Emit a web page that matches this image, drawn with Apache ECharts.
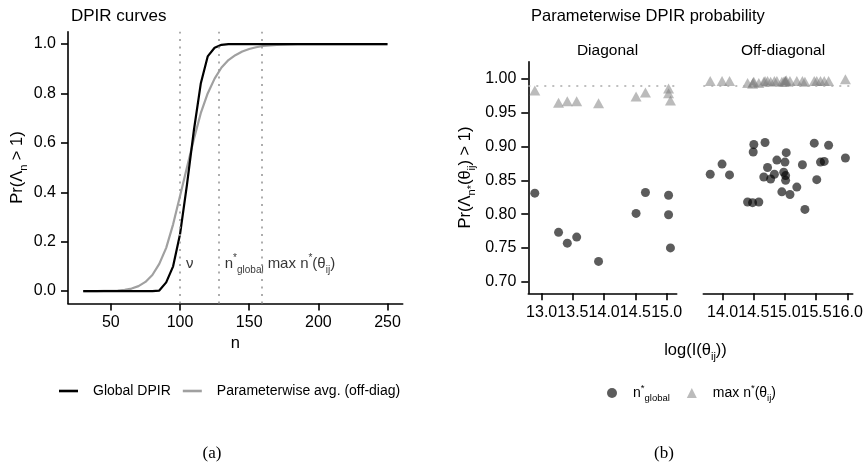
<!DOCTYPE html>
<html>
<head>
<meta charset="utf-8">
<script src="https://cdn.jsdelivr.net/npm/echarts@6/dist/echarts.min.js"></script>
<style>
  html, body { margin: 0; background: #fff; }
  #chart { width: 868px; height: 467px; }
</style>
</head>
<body>
<div id="chart"></div>
<script>
// (a) DPIR curves
const nValues = [30, 35, 40, 45, 50, 55, 60, 65, 70, 75, 80, 85, 90, 95, 100, 105, 110, 115, 120, 125,
  130, 135, 140, 145, 150, 155, 160, 165, 170, 175, 180, 185, 190, 195, 200, 205, 210, 215, 220, 225,
  230, 235, 240, 245, 250]
const globalDpir = [0, 0, 0, 0, 0, 0, 0, 0, 0, 0, 0, 0.002, 0.035, 0.1, 0.23, 0.43, 0.65, 0.84, 0.95, 0.985,
  0.997, 1, 1, 1, 1, 1, 1, 1, 1, 1, 1, 1, 1, 1, 1, 1, 1, 1, 1, 1,
  1, 1, 1, 1, 1]
const paramAvg = [0, 0, 0, 0.001, 0.001, 0.002, 0.005, 0.01, 0.02, 0.037, 0.065, 0.11, 0.175, 0.27, 0.385, 0.5, 0.615, 0.72, 0.8, 0.86,
  0.905, 0.935, 0.955, 0.97, 0.98, 0.987, 0.992, 0.995, 0.997, 0.998, 0.999, 1, 1, 1, 1, 1, 1, 1, 1, 1,
  1, 1, 1, 1, 1]
const vLines = [100, 128, 159]
const vLineLabels = ['{t|ν}', '{t|n}{sup|*}{sub|global}', '{t|max n}{sup|*}{t|(θ}{sub|ij}{t|)}']
const vLabelLevel = 0.11
const leftXTicks = [50, 100, 150, 200, 250]
const leftYTicks = [0, 0.2, 0.4, 0.6, 0.8, 1.0]

// (b) parameterwise DPIR probability
const diagLogI = [12.89, 13.27, 13.41, 13.56, 13.91, 14.51, 14.66, 15.03, 15.03, 15.06]
const diagNGlobal = [0.831, 0.773, 0.757, 0.766, 0.730, 0.801, 0.832, 0.828, 0.799, 0.750]
const diagMaxN = [0.983, 0.965, 0.967, 0.967, 0.964, 0.974, 0.980, 0.986, 0.979, 0.968]
const offLogI = [13.80, 13.99, 14.11, 14.40, 14.48, 14.58, 14.50, 14.49, 14.68, 14.72, 14.66, 14.77, 14.83, 14.87, 15.02,
  15.00, 14.98, 15.01, 15.01, 14.95, 15.08, 15.19, 15.28, 15.32, 15.47, 15.51, 15.57, 15.63, 15.70, 15.97]
const offNGlobal = [0.859, 0.874, 0.858, 0.818, 0.817, 0.818, 0.903, 0.892, 0.906, 0.869, 0.855, 0.852, 0.859, 0.880, 0.891,
  0.877, 0.862, 0.857, 0.850, 0.833, 0.829, 0.840, 0.873, 0.807, 0.905, 0.851, 0.877, 0.878, 0.902, 0.883]
const offMaxN = [0.997, 0.997, 0.997, 0.994, 0.993, 0.994, 0.996, 0.995, 0.997, 0.997, 0.996, 0.996, 0.997, 0.997, 0.998,
  0.997, 0.996, 0.997, 0.996, 0.996, 0.997, 0.997, 0.997, 0.996, 0.997, 0.997, 0.997, 0.997, 0.997, 0.9995]
const refLevel = 0.99
const rightYTicks = [0.70, 0.75, 0.80, 0.85, 0.90, 0.95, 1.00]
const diagXTicks = [13.0, 13.5, 14.0, 14.5, 15.0]
const offXTicks = [14.0, 14.5, 15.0, 15.5, 16.0]

const legendLabels = {
  'Global DPIR': 'Global DPIR',
  'Parameterwise avg. (off-diag)': 'Parameterwise avg. (off-diag)',
  'n*global': '{t|n}{sup|*}{sub|global}',
  'max n*(θij)': '{t|max n}{sup|*}{t|(θ}{sub|ij}{t|)}'
}

const font = "'Liberation Sans', Arial, Helvetica, sans-serif"
const serif = "'Liberation Serif', 'DejaVu Serif', serif"

function richSet(size, subSize, lh) {
  const base = { color: '#000', fontFamily: font, fontWeight: 'normal' }
  return {
    t: Object.assign({ fontSize: size, lineHeight: lh }, base),
    sub: Object.assign({ fontSize: subSize, lineHeight: subSize, verticalAlign: 'bottom' }, base),
    sup: Object.assign({ fontSize: subSize, lineHeight: subSize, verticalAlign: 'top' }, base)
  }
}
const rich = richSet(15, 10, 22)
const nameRich = richSet(16.5, 11, 24)
const legRich = richSet(14, 9.5, 20)

const zip = (xs, ys) => xs.map((x, i) => [x, ys[i]])

const axisLineStyle = { color: '#000', width: 1.6 }
const tickLabel = { fontSize: 16, color: '#000', fontFamily: font }
const plainTitle = size => ({ fontSize: size, fontWeight: 'normal', color: '#000', fontFamily: font })

function xAxisFor(gridIndex, min, max, ticks, digits, name) {
  return {
    type: 'value', gridIndex, min, max,
    axisLine: { show: true, onZero: false, lineStyle: axisLineStyle },
    axisTick: { show: true, length: 7, lineStyle: axisLineStyle, customValues: ticks },
    axisLabel: Object.assign({ customValues: ticks, margin: 11, formatter: v => v.toFixed(digits) }, tickLabel),
    splitLine: { show: false },
    name: name || '', nameLocation: 'middle', nameGap: 29,
    nameTextStyle: { fontSize: 16.5, color: '#000', fontFamily: font }
  }
}

const chart = echarts.init(document.getElementById('chart'))

const option = {
  animation: false,
  backgroundColor: '#fff',
  textStyle: { fontFamily: font },
  title: [
    { text: 'DPIR curves', left: 66, top: 3, textStyle: plainTitle(17) },
    { text: 'Parameterwise DPIR probability', left: 526, top: 3, textStyle: plainTitle(16.5) },
    { text: 'Diagonal', left: 602.5, textAlign: 'center', top: 38, textStyle: plainTitle(15.5) },
    { text: 'Off-diagonal', left: 778, textAlign: 'center', top: 38, textStyle: plainTitle(15.5) },
    { text: '{t|log(I(θ}{sub|ij}{t|))}', left: 690.5, textAlign: 'center', top: 333, textStyle: { rich: nameRich, fontWeight: 'normal' } },
    { text: '(a)', left: 207, textAlign: 'center', top: 440, textStyle: { fontSize: 17, fontWeight: 'normal', color: '#000', fontFamily: serif } },
    { text: '(b)', left: 659, textAlign: 'center', top: 440, textStyle: { fontSize: 17, fontWeight: 'normal', color: '#000', fontFamily: serif } }
  ],
  legend: [
    {
      data: ['Global DPIR', 'Parameterwise avg. (off-diag)'],
      left: 54, top: 379, icon: 'rect', itemWidth: 19, itemHeight: 2.6, itemGap: 12,
      formatter: name => legendLabels[name],
      textStyle: { fontSize: 14, color: '#000', fontFamily: font, padding: [0, 0, 0, 10] }
    },
    {
      data: ['n*global', 'max n*(θij)'],
      left: 602, top: 378, itemWidth: 10, itemHeight: 10, itemGap: 17,
      formatter: name => legendLabels[name],
      textStyle: { rich: legRich, padding: [0, 0, 0, 11] }
    }
  ],
  grid: [
    { left: 68, top: 31.7, width: 334.7, height: 271.7 },
    { left: 528.3, top: 61.7, width: 148.4, height: 231.6 },
    { left: 703.3, top: 61.7, width: 149.4, height: 231.6 }
  ],
  xAxis: [
    xAxisFor(0, 19, 261, leftXTicks, 0, 'n'),
    xAxisFor(1, 12.786, 15.16, diagXTicks, 1),
    xAxisFor(2, 13.689, 16.087, offXTicks, 1)
  ],
  yAxis: [
    {
      type: 'value', gridIndex: 0, min: -0.05, max: 1.05,
      axisLine: { show: true, onZero: false, lineStyle: axisLineStyle },
      axisTick: { show: true, length: 7, lineStyle: axisLineStyle, customValues: leftYTicks },
      axisLabel: Object.assign({ customValues: leftYTicks, margin: 12, formatter: v => v.toFixed(1) }, tickLabel),
      splitLine: { show: false },
      name: '{t|Pr(Λ}{sub|n}{t| > 1)}', nameLocation: 'middle', nameGap: 38,
      nameTextStyle: { rich: nameRich }
    },
    {
      type: 'value', gridIndex: 1, min: 0.6828, max: 1.0256,
      axisLine: { show: true, onZero: false, lineStyle: axisLineStyle },
      axisTick: { show: true, length: 7, lineStyle: axisLineStyle, customValues: rightYTicks },
      axisLabel: Object.assign({ customValues: rightYTicks, margin: 12, formatter: v => v.toFixed(2) }, tickLabel),
      splitLine: { show: false },
      name: '{t|Pr(Λ}{sub|n*}{t|(θ}{sub|ij}{t|) > 1)}', nameLocation: 'middle', nameGap: 51,
      nameTextStyle: { rich: nameRich }
    },
    {
      type: 'value', gridIndex: 2, min: 0.6828, max: 1.0256,
      axisLine: { show: false }, axisTick: { show: false }, axisLabel: { show: false },
      splitLine: { show: false }
    }
  ],
  series: [
    {
      name: 'Parameterwise avg. (off-diag)', type: 'line', xAxisIndex: 0, yAxisIndex: 0,
      data: zip(nValues, paramAvg), symbol: 'none', color: '#a0a0a0',
      lineStyle: { color: '#a0a0a0', width: 2.2 }, z: 3
    },
    {
      name: 'Global DPIR', type: 'line', xAxisIndex: 0, yAxisIndex: 0,
      data: zip(nValues, globalDpir), symbol: 'none', color: '#000',
      lineStyle: { color: '#000', width: 2.2 }, z: 4
    },
    {
      name: 'thresholds', type: 'scatter', xAxisIndex: 0, yAxisIndex: 0,
      data: vLines.map((v, i) => ({ value: [v, vLabelLevel], label: { formatter: vLineLabels[i] } })),
      symbolSize: 0, silent: true, z: 2,
      label: { show: true, position: 'right', distance: 6, rich },
      markLine: {
        silent: true, symbol: ['none', 'none'], label: { show: false },
        lineStyle: { type: [2, 5.5], color: '#999', width: 1.6 },
        data: vLines.map(v => ({ xAxis: v }))
      }
    },
    {
      name: 'n*global', type: 'scatter', xAxisIndex: 1, yAxisIndex: 1,
      data: zip(diagLogI, diagNGlobal), symbol: 'circle', symbolSize: 9,
      itemStyle: { color: 'rgba(0,0,0,0.8)' }
    },
    {
      name: 'max n*(θij)', type: 'scatter', xAxisIndex: 1, yAxisIndex: 1,
      data: zip(diagLogI, diagMaxN), symbol: 'triangle', symbolSize: [11, 10],
      itemStyle: { color: 'rgba(128,128,128,0.67)' },
      markLine: {
        silent: true, symbol: ['none', 'none'], label: { show: false },
        lineStyle: { type: [2, 6], color: '#aaa', width: 1.6 },
        data: [{ yAxis: refLevel }]
      }
    },
    {
      name: 'n*global', type: 'scatter', xAxisIndex: 2, yAxisIndex: 2,
      data: zip(offLogI, offNGlobal), symbol: 'circle', symbolSize: 9,
      itemStyle: { color: 'rgba(0,0,0,0.8)' }
    },
    {
      name: 'max n*(θij)', type: 'scatter', xAxisIndex: 2, yAxisIndex: 2,
      data: zip(offLogI, offMaxN), symbol: 'triangle', symbolSize: [11, 10],
      itemStyle: { color: 'rgba(128,128,128,0.67)' },
      markLine: {
        silent: true, symbol: ['none', 'none'], label: { show: false },
        lineStyle: { type: [2, 6], color: '#aaa', width: 1.6 },
        data: [{ yAxis: refLevel }]
      }
    }
  ]
}

chart.setOption(option)
</script>
</body>
</html>
